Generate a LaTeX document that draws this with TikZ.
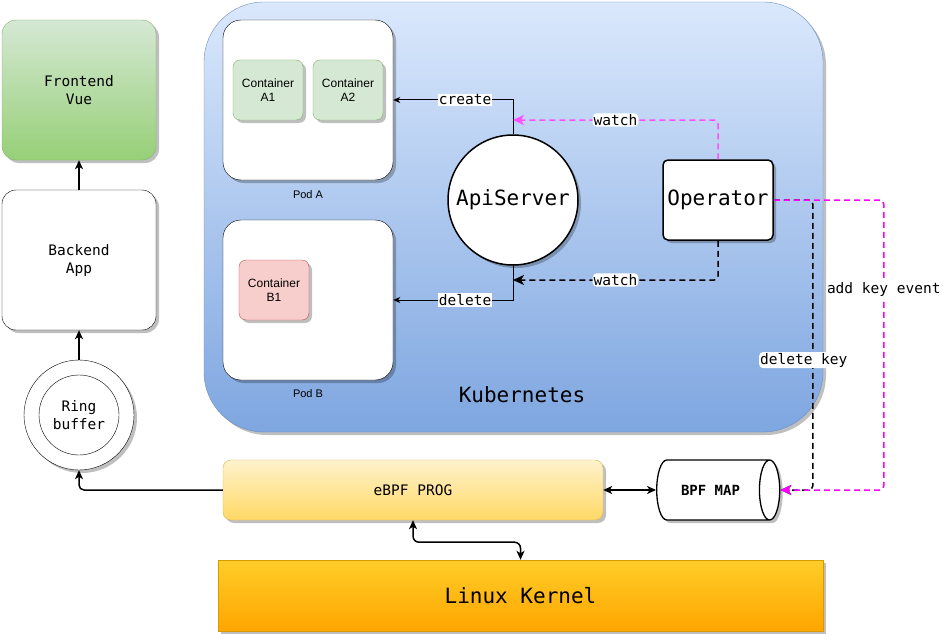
\documentclass[tikz,border=0pt]{standalone}
\usepackage{fontspec}
\setmainfont{Liberation Sans}
\setmonofont{DejaVu Sans Mono}
\usepackage{tikz}
\usetikzlibrary{positioning, shapes.geometric, shadows, arrows.meta}
\definecolor{kubetop}{HTML}{DAE8FC}
\definecolor{kubebot}{HTML}{7EA6E0}
\definecolor{kubeline}{HTML}{6C8EBF}
\definecolor{greenfill}{HTML}{D5E8D4}
\definecolor{greenbot}{HTML}{97D077}
\definecolor{greenline}{HTML}{82B366}
\definecolor{redfill}{HTML}{F8CECC}
\definecolor{redline}{HTML}{B85450}
\definecolor{progtop}{HTML}{FFF2CC}
\definecolor{progbot}{HTML}{FFD966}
\definecolor{progline}{HTML}{D6B656}
\definecolor{kerntop}{HTML}{FFCD28}
\definecolor{kernbot}{HTML}{FFA500}
\definecolor{kernline}{HTML}{D79B00}
\definecolor{watchpink}{HTML}{FF4DFF}
\definecolor{keypink}{HTML}{FF00FF}
\newcommand{\mono}[1]{\ttfamily\fontsize{#1}{18}\selectfont}
\tikzset{
    shade/.style={drop shadow={shadow xshift=3pt, shadow yshift=-3pt, opacity=0.25, fill=black}},
    appbox/.style={draw, shade, rounded corners=14pt, minimum width=154pt, minimum height=140pt,
        align=center, font=\mono{14.5}},
    pod/.style={draw, shade, fill=white, rounded corners=18pt, minimum width=170pt, minimum height=160pt},
    ctr/.style={draw, shade, rounded corners=7pt, minimum width=70pt, minimum height=60pt,
        align=center, font=\fontsize{12}{14}\selectfont},
    podlbl/.style={font=\fontsize{11}{13}\selectfont},
    lbl/.style={fill=white, inner sep=1pt, font=\mono{14.5}},
    arr/.style={line width=1.5pt, -{Stealth[length=9pt, width=8pt, inset=2.5pt]}},
    thinarr/.style={line width=1pt, -{Stealth[length=7pt, width=6pt, inset=2pt]}},
    dblarr/.style={line width=1.5pt, {Stealth[length=9pt, width=8pt, inset=2.5pt]}-{Stealth[length=9pt, width=8pt, inset=2.5pt]}},
    dasharr/.style={line width=1.5pt, dash pattern=on 6pt off 4pt, rounded corners=4pt,
        -{Stealth[length=11pt, width=10pt, inset=3pt]}}
}

\begin{document}
\begin{tikzpicture}[x=1pt, y=-1pt]
    \useasboundingbox (0,0) rectangle (943,634);

    % Kubernetes
    \node[draw=kubeline, shade, top color=kubetop, bottom color=kubebot, rounded corners=60pt,
        minimum width=619pt, minimum height=430pt] (kube) at (513.5,217) {};
    \node[font=\mono{21}] (kubelbl) at (522,395) {Kubernetes};

    % Pods
    \node[pod] (podA) at (308,100) {};
    \node[podlbl] (podAlbl) at (308,195) {Pod A};
    \node[ctr, draw=greenline, fill=greenfill] (ctrA1) at (268,90) {Container\\A1};
    \node[ctr, draw=greenline, fill=greenfill] (ctrA2) at (348,90) {Container\\A2};
    \node[pod] (podB) at (308,300) {};
    \node[podlbl] (podBlbl) at (308,394) {Pod B};
    \node[ctr, draw=redline, fill=redfill] (ctrB1) at (274,290) {Container\\B1};

    % ApiServer and Operator
    \node[draw, shade, fill=white, circle, line width=1.5pt, minimum size=130pt, font=\mono{21}] (api) at (513,200) {ApiServer};
    \node[draw, shade, fill=white, rounded corners=5pt, line width=1.5pt, minimum width=110pt,
        minimum height=80pt, font=\mono{21}] (operator) at (718,200) {Operator};
    \coordinate (apitop) at (513,120);
    \coordinate (apibot) at (513,280);

    % Frontend, backend, ring buffer
    \node[appbox, draw=greenline, top color=greenfill, bottom color=greenbot] (frontend) at (79,90) {Frontend\\Vue};
    \node[appbox, fill=white] (backend) at (79,260) {Backend\\App};
    \node[draw, shade, fill=white, circle, minimum size=110pt] (ring) at (79,415) {};
    \node[draw, circle, minimum size=80pt, align=center, font=\mono{14.5}] (ringin) at (79,415) {Ring\\buffer};

    % eBPF, map, kernel
    \node[draw=progline, shade, top color=progtop, bottom color=progbot, rounded corners=8pt,
        minimum width=380pt, minimum height=60pt, font=\mono{14.5}] (ebpf) at (413,490) {eBPF PROG};
    \node[draw, shade, fill=white, cylinder, shape border rotate=0, aspect=1.2, line width=1.3pt,
        minimum width=60pt, minimum height=123pt, font=\mono{14}\bfseries] (bpfmap) at (710.5,490) {BPF MAP};
    \node[draw=kernline, shade, top color=kerntop, bottom color=kernbot, minimum width=605pt,
        minimum height=71pt, font=\mono{21}] (kernel) at (520.5,595.5) {Linux Kernel};

    % connectors
    \draw[arr] (backend) -- (frontend);
    \draw[arr] (ring) -- (backend);
    \draw[arr, rounded corners=5pt] (ebpf.west) -| (ring.south);
    \draw[dblarr] (ebpf) -- (bpfmap);
    \draw[dblarr, rounded corners=6pt] (ebpf.south) -- ++(0,22) -| (kernel.north);
    \draw[thinarr] (api.north) |- node[lbl, pos=0.7] {create} (podA.east);
    \draw[thinarr] (api.south) |- node[lbl, pos=0.7] {delete} (podB.east);
    \draw[dasharr, watchpink] (operator.north) |- node[lbl, text=black, pos=0.75] {watch} (apitop);
    \draw[dasharr, black] (operator.south) |- node[lbl, pos=0.75] {watch} (apibot);
    \draw[dasharr, black] (operator.east) -- ++(39,0) |- node[lbl, pos=0.276, xshift=-9pt] {delete key} (bpfmap.east);
    \draw[dasharr, keypink] (operator.east) -- ++(110,0) |- node[lbl, text=black, pos=0.155] {add key event} (bpfmap.east);
\end{tikzpicture}
\end{document}
